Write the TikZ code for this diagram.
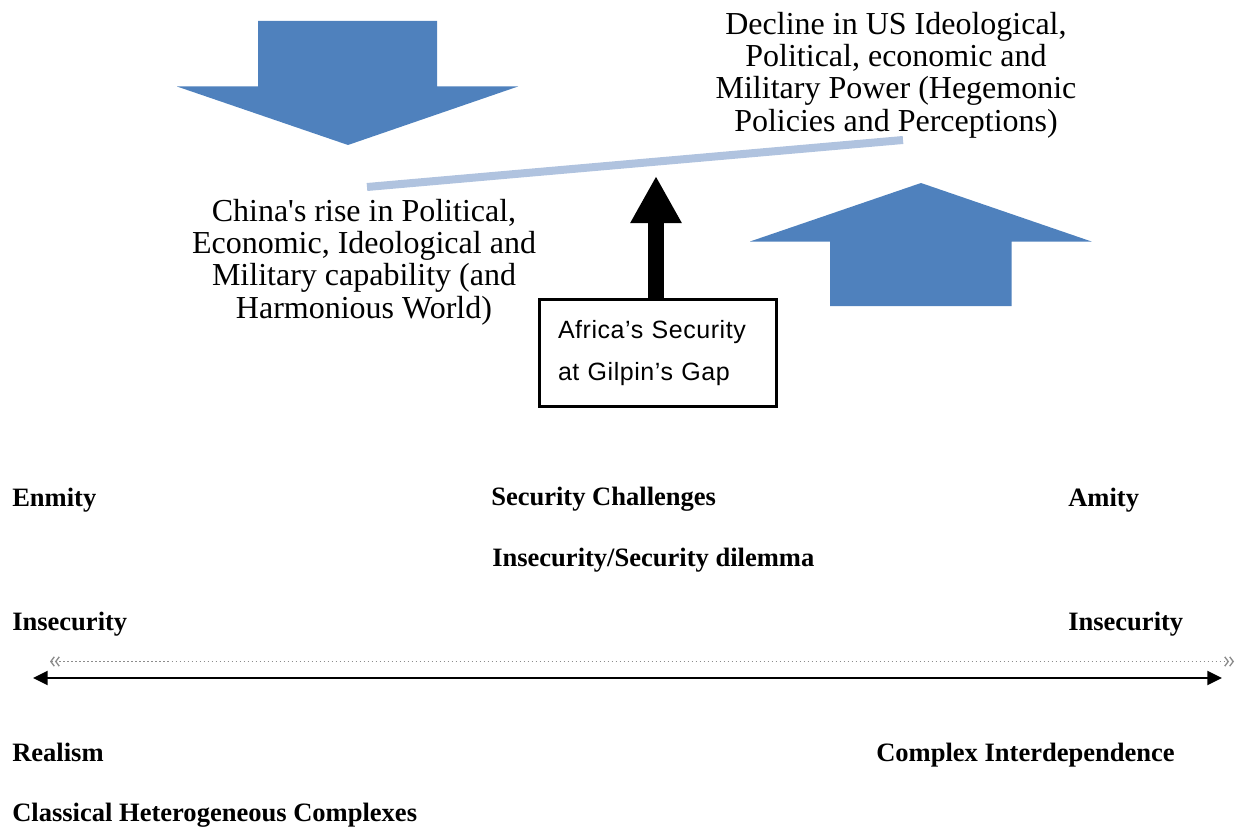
\documentclass[tikz,border=0pt]{standalone}
\usepackage{fontspec}
\newfontfamily\tnr{Liberation Serif}
\newfontfamily\arialls{Liberation Sans}[LetterSpace=2.2]
\usetikzlibrary{arrows.meta}
\definecolor{blu}{HTML}{4F81BD}
\definecolor{lightblu}{HTML}{B0C3DF}
\definecolor{dotgray}{HTML}{8C8C8C}
\begin{document}
\begin{tikzpicture}[x=0.75pt,y=-0.75pt,
  bigtxt/.style={font=\tnr\fontsize{24}{24.2}\selectfont, align=center, inner sep=0pt},
  lbl/.style={font=\tnr\bfseries\fontsize{19.9}{24}\selectfont, anchor=base west, inner sep=0pt},
  blockarrow/.style={fill=blu},
  gapbox/.style={draw=black, line width=2.5pt, minimum width=178pt, minimum height=80pt,
    inner xsep=14pt, text width=150pt, align=left,
    font=\arialls\fontsize{18.75}{31.5}\selectfont}
]
\useasboundingbox (0,0) rectangle (1237,831);

% block arrows
\fill[blockarrow] (258,21) -- (437,21) -- (437,86.5) -- (518,86.5) -- (348,145)
  -- (177,86.5) -- (258,86.5) -- cycle;
\fill[blockarrow] (921,183) -- (1091.5,241.5) -- (1011.5,241.5) -- (1011.5,306)
  -- (830,306) -- (830,241.5) -- (750,241.5) -- cycle;

% balance beam
\coordinate (beamL) at (367,187);
\coordinate (beamR) at (903,140);
\draw[lightblu, line width=6pt] (beamL) -- (beamR);

% texts
\node[bigtxt] (us) at (896,75) {Decline in US Ideological,\\Political, economic and\\Military Power (Hegemonic\\Policies and Perceptions)};
\node[bigtxt] (china) at (364,262) {China's rise in Political,\\Economic, Ideological and\\Military capability (and\\Harmonious World)};

% box and black arrow
\node[gapbox] (gap) at (658,353) {Africa’s Security\\at Gilpin’s Gap};
\coordinate (tip) at (656,176);
\draw[line width=12pt, -{Triangle[length=35.25pt,width=36pt]}] (gap.north -| tip) -- (tip);

% labels
\node[lbl] (enmity) at (12,506) {Enmity};
\node[lbl] (secch) at (491,505) {Security Challenges};
\node[lbl] (amity) at (1068,506) {Amity};
\node[lbl] (dilemma) at (492,566) {Insecurity/Security dilemma};
\node[lbl] (insecL) at (12,630) {Insecurity};
\node[lbl] (insecR) at (1068,630) {Insecurity};
\node[lbl] (realism) at (12,761.5) {Realism};
\node[lbl] (complex) at (876,761.5) {Complex Interdependence};
\node[lbl] (classical) at (12,821.5) {Classical Heterogeneous Complexes};

% spectrum lines
\coordinate (dotL) at (50,661.5);
\coordinate (dotR) at (1234,661.5);
\draw[dotgray, line width=1pt, dash pattern=on 1pt off 2pt,
  {Straight Barb[length=2.6pt,width=7pt,line width=1pt]Straight Barb[length=2.6pt,width=7pt,line width=1pt]}-{Straight Barb[length=2.6pt,width=7pt,line width=1pt]Straight Barb[length=2.6pt,width=7pt,line width=1pt]}] (dotL) -- (dotR);
\coordinate (solL) at (33,678);
\coordinate (solR) at (1222,678);
\draw[line width=1.5pt, {Triangle[length=11pt,width=10.5pt]}-{Triangle[length=11pt,width=10.5pt]}] (solL) -- (solR);
\end{tikzpicture}
\end{document}
